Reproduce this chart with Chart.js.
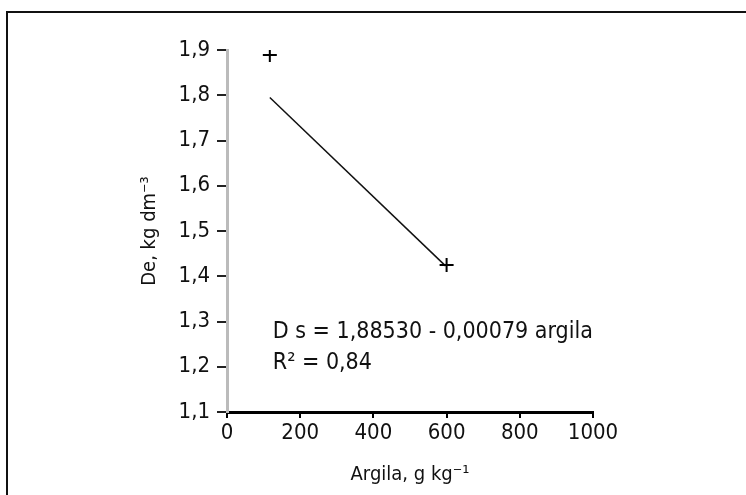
<!DOCTYPE html>
<html>
<head>
<meta charset="utf-8">
<script src="https://cdn.jsdelivr.net/npm/chart.js@4/dist/chart.umd.min.js"></script>
<style>
  body { margin: 0; background: #fff; }
  #frame { position: absolute; left: 6px; top: 11px; width: 800px; height: 600px;
           border-left: 2px solid #111; border-top: 2px solid #111; }
  #chart { position: absolute; left: 0; top: 0; }
</style>
</head>
<body>
<div id="frame"></div>
<canvas id="chart" width="746" height="495"></canvas>
<script>
// data
const pointsX = [117, 600];
const pointsY = [1.889, 1.425];
const trendX = [117, 597];
const trendY = [1.795, 1.423];
const xTicks = [0, 200, 400, 600, 800, 1000];
const yTicks = [1.1, 1.2, 1.3, 1.4, 1.5, 1.6, 1.7, 1.8, 1.9];
const equationLines = ['D s = 1,88530 - 0,00079 argila', 'R² = 0,84'];

const narrow = "'Liberation Sans Narrow', 'Arial Narrow', 'DejaVu Sans Condensed', sans-serif";

function toPairs(xs, ys) {
    return xs.map((x, i) => ({x: x, y: ys[i]}));
}

// writes the regression equation inside the plot
const equationPlugin = {
    id: 'equation',
    afterDatasetsDraw(chart) {
        const ctx = chart.ctx;
        const x = chart.scales.x.getPixelForValue(125);
        const y = chart.scales.y.getPixelForValue(1.277);
        ctx.save();
        ctx.fillStyle = '#111';
        ctx.font = '23px ' + narrow;
        ctx.textBaseline = 'middle';
        ctx.fillText(equationLines[0], x, y);
        ctx.fillText(equationLines[1], x, y + 31);
        ctx.restore();
    }
};

new Chart(document.getElementById('chart'), {
    type: 'scatter',
    data: {
        datasets: [{
            data: toPairs(pointsX, pointsY),
            pointStyle: 'cross',
            pointRadius: 7,
            borderColor: '#000',
            borderWidth: 2,
            showLine: false
        }, {
            data: toPairs(trendX, trendY),
            showLine: true,
            borderColor: '#111',
            borderWidth: 1.5,
            pointRadius: 0
        }]
    },
    options: {
        responsive: false,
        animation: false,
        layout: { padding: { left: 130, top: 50, right: 153, bottom: 0 } },
        plugins: { legend: { display: false }, tooltip: { enabled: false } },
        scales: {
            x: {
                type: 'linear',
                min: 0,
                max: 1000,
                afterBuildTicks: (scale) => { scale.ticks = xTicks.map(v => ({value: v})); },
                afterFit: (scale) => { scale.height = 83; },
                border: { color: '#000', width: 3 },
                grid: { drawOnChartArea: false, color: '#000', lineWidth: 2, tickLength: 6 },
                ticks: {
                    color: '#111',
                    padding: 2,
                    font: { family: narrow, size: 22 },
                    callback: (v) => String(v)
                },
                title: {
                    display: true,
                    text: 'Argila, g kg⁻¹',
                    color: '#111',
                    padding: { top: 0, bottom: 8 },
                    font: { family: narrow, size: 20 }
                }
            },
            y: {
                type: 'linear',
                min: 1.1,
                max: 1.9,
                afterBuildTicks: (scale) => { scale.ticks = yTicks.map(v => ({value: v})); },
                afterFit: (scale) => { scale.width = 97; },
                border: { color: '#bbb', width: 3 },
                grid: { drawOnChartArea: false, color: '#222', lineWidth: 2, tickLength: 10 },
                ticks: {
                    color: '#111',
                    padding: 7,
                    font: { family: narrow, size: 22 },
                    callback: (v) => v.toFixed(1).replace('.', ',')
                },
                title: {
                    display: true,
                    text: 'De, kg dm⁻³',
                    color: '#111',
                    padding: { top: 8, bottom: 0 },
                    font: { family: narrow, size: 20 }
                }
            }
        }
    },
    plugins: [equationPlugin]
});
</script>
</body>
</html>
